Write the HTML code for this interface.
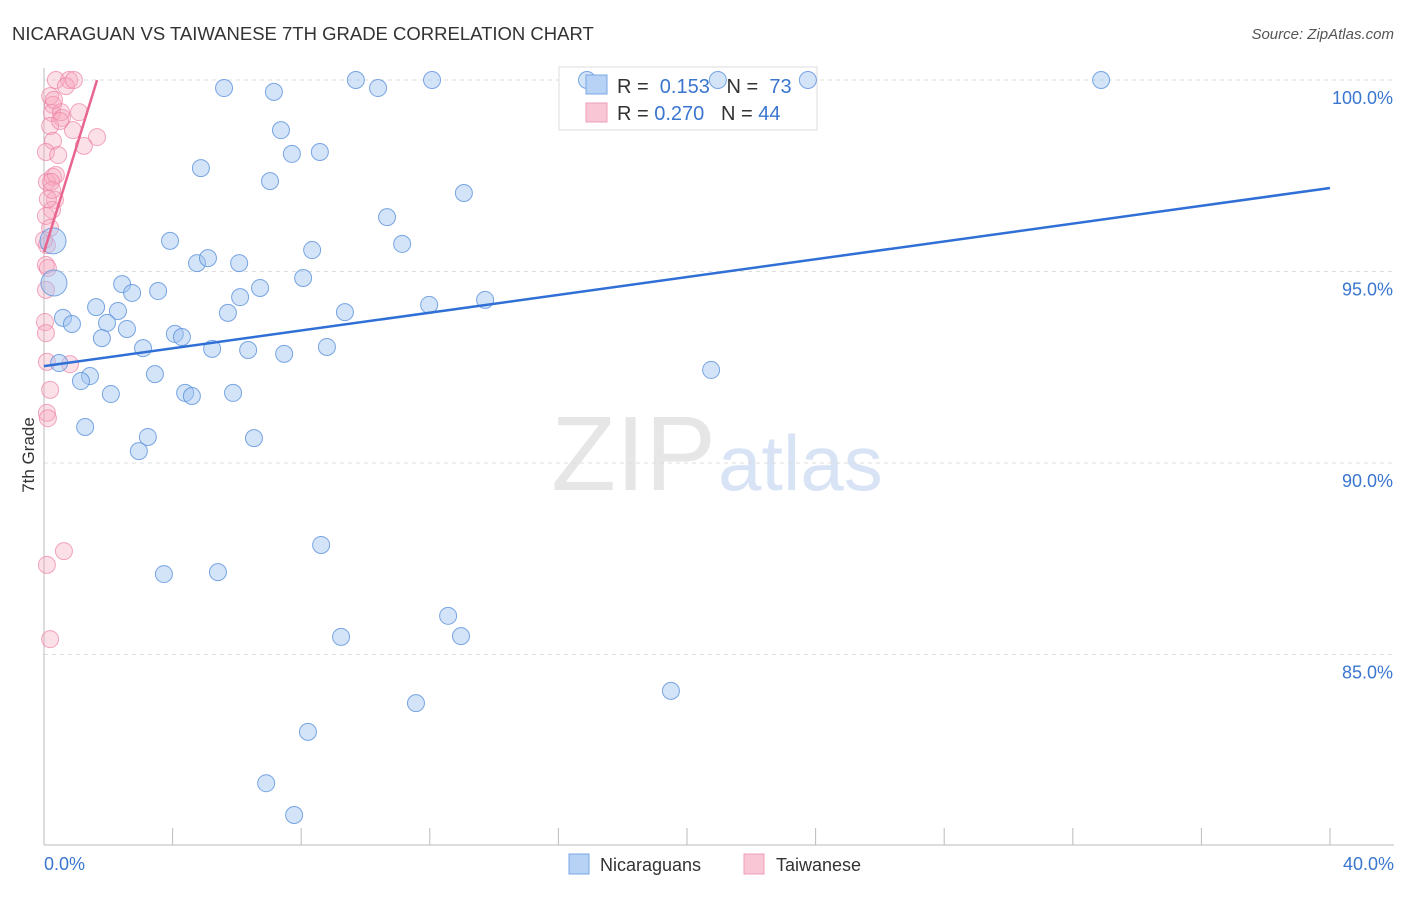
<!DOCTYPE html>
<html><head><meta charset="utf-8"><style>
body{margin:0;background:#fff;font-family:"Liberation Sans",sans-serif;}
svg text{font-family:"Liberation Sans",sans-serif;}
</style></head><body>
<svg id="chart" width="1406" height="892" xmlns="http://www.w3.org/2000/svg">
<text x="12" y="40" font-size="18.5" fill="#333">NICARAGUAN VS TAIWANESE 7TH GRADE CORRELATION CHART</text>
<text x="1394" y="39" font-size="15" fill="#555" font-style="italic" text-anchor="end">Source: ZipAtlas.com</text>
<text x="716" y="490" font-size="106" fill="#e6e6e6" text-anchor="end" font-family="Liberation Serif">ZIP</text>
<text x="718" y="490" font-size="78" fill="#d8e4f5">atlas</text>
<text transform="translate(34,455) rotate(-90)" font-size="17" fill="#333" text-anchor="middle">7th Grade</text>
<g id="grid"></g><g id="axes"></g>
<g>
<rect x="559" y="67" width="258" height="63" fill="#fff" stroke="#ddd"/>
</g>
<g id="pts"></g><g id="lines"></g>
<g>
<rect x="586" y="75" width="21" height="19" fill="#b7d2f5" stroke="#7aa7e6"/>
<text x="617" y="93" font-size="20" fill="#333">R = <tspan fill="#3a76d0">&#160;0.153</tspan>&#160;&#160;&#160;N = <tspan fill="#3a76d0">&#160;73</tspan></text>
<rect x="586" y="103" width="21" height="19" fill="#f9c6d5" stroke="#ef9db7"/>
<text x="617" y="120" font-size="20" fill="#333">R = <tspan fill="#3a76d0">0.270</tspan>&#160;&#160;&#160;N = <tspan fill="#3a76d0">44</tspan></text>
</g>
<g>
<rect x="569" y="854" width="20" height="20" fill="#b7d2f5" stroke="#7aa7e6"/>
<text x="600" y="871" font-size="18" fill="#333">Nicaraguans</text>
<rect x="744" y="854" width="20" height="20" fill="#f9c6d5" stroke="#ef9db7"/>
<text x="776" y="871" font-size="18" fill="#333">Taiwanese</text>
</g>
</svg>
<script>
const xTicks=[0,40];
const yTicks=[85,90,95,100];
const blueX=[5.60,7.15,7.37,7.71,8.58,7.03,4.88,9.70,10.39,12.07,16.89,20.96,23.76,32.88,13.06,10.67,11.14,8.34,3.92,4.76,5.10,6.07,0.28,0.31,2.43,2.74,3.55,6.72,8.06,6.10,1.62,2.30,0.59,0.87,1.96,2.58,1.80,5.72,9.36,11.98,13.72,4.07,4.29,3.08,5.23,6.35,7.47,8.80,0.47,1.43,1.15,3.45,4.39,4.60,2.08,5.88,20.75,1.28,3.23,2.95,6.53,8.62,3.73,5.41,12.57,9.24,12.97,19.50,11.57,8.21,6.91,7.78];
const blueY=[99.79,99.69,98.69,98.07,98.12,97.36,97.70,100,99.79,100,100,100,100,100,97.05,96.42,95.72,95.56,95.80,95.22,95.35,95.22,95.80,94.70,94.67,94.44,94.49,94.57,94.83,94.33,94.07,93.97,93.79,93.63,93.66,93.50,93.26,93.92,93.94,94.13,94.26,93.37,93.29,93.00,92.98,92.95,92.85,93.03,92.61,92.27,92.14,92.32,91.83,91.75,91.80,91.83,92.43,90.94,90.68,90.31,90.65,87.86,87.10,87.15,86.01,85.46,85.48,84.05,83.73,82.98,81.64,80.81];
const blueBig=[22,23];
const pinkX=[0.37,0.78,0.68,0.19,0.28,0.25,0.56,0.90,1.65,1.24,0.19,0.28,0.06,0.44,0.09,0.28,0.37,0.34,0.25,0.06,0.19,0.09,0.06,0.03,0.06,0.09,0.81,0.19,0.09,0.12,0.62,0.09,0.19,1.09,0.53,0.31,0.12,0.25,0.00,0.12,0.93,0.50,0.22,0.06];
const pinkY=[100,100,99.84,99.58,99.35,99.14,99.01,98.69,98.51,98.28,98.80,98.41,98.12,98.04,97.34,97.47,97.52,96.87,96.61,96.45,96.14,95.69,95.17,93.68,93.39,92.64,92.58,91.91,91.31,91.17,87.70,87.34,85.40,99.16,99.16,99.48,96.89,97.13,95.82,95.09,100,98.93,97.34,94.52];
const blueLine=[92.53,97.18];
const pinkLine=[95.51,2.72,1.65];
const X=v=>44+v*32.15, Y=v=>80+(100-v)*38.3;
const NS="http://www.w3.org/2000/svg";
function mk(p,t,a){const e=document.createElementNS(NS,t);for(const k in a)e.setAttribute(k,a[k]);p.appendChild(e);return e;}
const grid=document.getElementById('grid'),axes=document.getElementById('axes'),pts=document.getElementById('pts'),lines=document.getElementById('lines');
yTicks.forEach(t=>{
 const l=mk(grid,'line',{x1:44,x2:1394,y1:Y(t),y2:Y(t),stroke:'#ddd','stroke-dasharray':'4,4'});
 
 
 const tx=mk(grid,'text',{x:1393,y:Y(t)+24,'font-size':18,fill:'#3a76d0','text-anchor':'end'});
 tx.textContent=t.toFixed(1)+'%';
 
 
});
const ax=mk(axes,'line',{x1:44,x2:1394,y1:845,y2:845,stroke:'#bbb'});


const ay=mk(axes,'line',{x1:44,x2:44,y1:68,y2:845,stroke:'#bbb'});


for(let i=0;i<=10;i++){const tk=mk(axes,'line',{x1:44+i*128.6,x2:44+i*128.6,y1:828,y2:845,stroke:'#bbb'});
 
 }
xTicks.forEach((t,i)=>{const tx=mk(axes,'text',{x:i?1394:44,y:870,'font-size':18,fill:'#3a76d0','text-anchor':i?'end':'start'});
 tx.textContent=t.toFixed(1)+'%';
 
 });
pinkX.forEach((x,i)=>{const c=mk(pts,'circle',{cx:X(x),cy:Y(pinkY[i]),r:8.5,fill:'rgba(245,165,190,0.35)',stroke:'rgba(236,130,165,0.7)','stroke-width':1});
 
 });
blueX.forEach((x,i)=>{const big=blueBig.includes(i);const c=mk(pts,'circle',{cx:X(x),cy:Y(blueY[i]),r:big?13:8.5,fill:'rgba(160,196,240,0.45)',stroke:'rgba(90,145,220,0.8)','stroke-width':1});
 
 });
const bl=mk(lines,'line',{x1:X(0),y1:Y(blueLine[0]),x2:X(40),y2:Y(blueLine[1]),stroke:'#2f6fd6','stroke-width':2.5});


const pl=mk(lines,'line',{x1:X(0),y1:Y(pinkLine[0]),x2:X(pinkLine[2]),y2:Y(pinkLine[0]+pinkLine[1]*pinkLine[2]),stroke:'#e8658f','stroke-width':2.5});


</script>
</body></html>
